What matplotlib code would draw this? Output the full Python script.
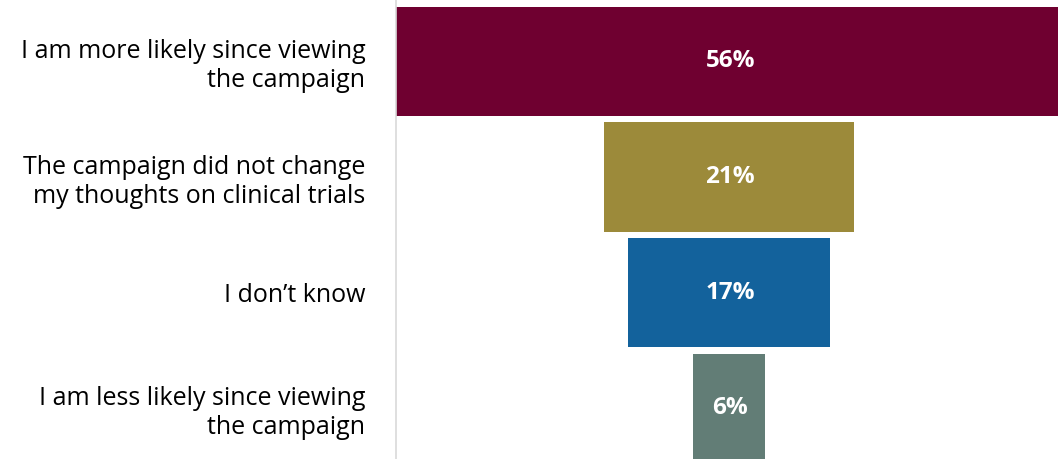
import matplotlib.pyplot as plt

# funnel data
labels = ["I am more likely since viewing\nthe campaign",
          "The campaign did not change\nmy thoughts on clinical trials",
          "I don\u2019t know",
          "I am less likely since viewing\nthe campaign"]
values = [56, 21, 17, 6]
colors = ["#6F0030", "#9C8A3A", "#13629C", "#627D76"]

plt.rcParams['font.family'] = ['Open Sans', 'DejaVu Sans']

fig = plt.figure(figsize=(10.58, 4.59), dpi=100)
ax = fig.add_axes([396 / 1058, 0, 1 - 396 / 1058, 1])

pos = list(range(len(values)))
ax.barh(pos, values, left=[-v / 2 for v in values], height=0.944, color=colors)

for y, v in zip(pos, values):
    ax.text(0.1, y, f"{v}%", ha="center", va="center", color="white",
            fontsize=17.5, fontweight="bold")

ax.set_xlim(-28, 27.65)
ax.set_ylim(3.44, -0.532)
ax.set_yticks(pos)
ax.set_yticklabels(labels, fontsize=18, ha="right", linespacing=1.2)
ax.tick_params(axis="y", length=0, pad=22)
ax.set_xticks([])
for s in ["top", "right", "bottom"]:
    ax.spines[s].set_visible(False)
ax.spines["left"].set_color("#D9D9D9")
ax.spines["left"].set_linewidth(1.2)

fig.savefig("out.png", dpi=100)
